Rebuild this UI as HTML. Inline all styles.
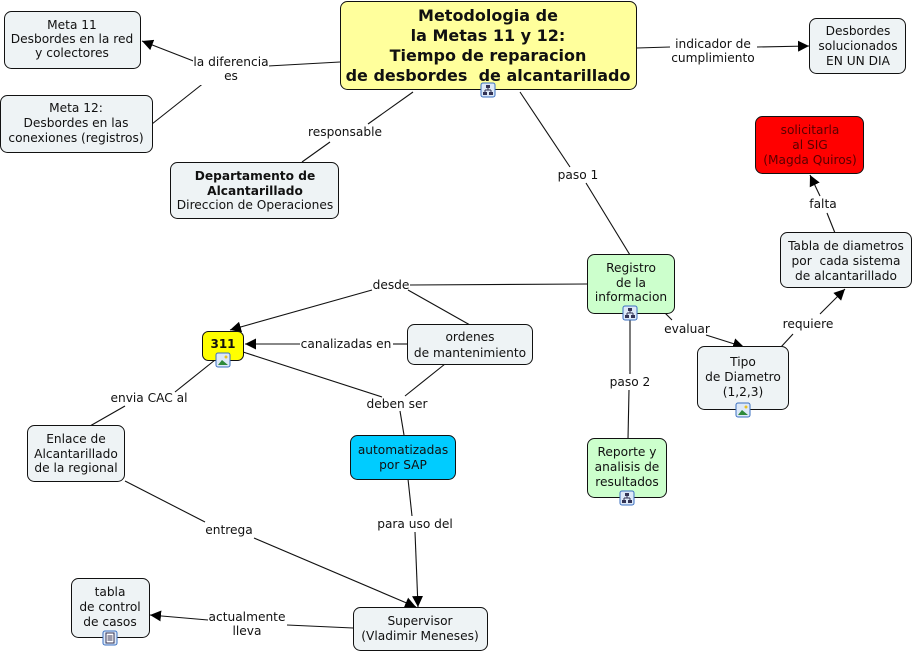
<!DOCTYPE html>
<html><head><meta charset="utf-8"><style>
html,body{margin:0;padding:0;background:#fff;}
svg{display:block;}
text{font-family:"DejaVu Sans","Liberation Sans",sans-serif;font-size:12.2px;fill:#111;}
.b{font-weight:bold;}
.n{fill:#eef3f5;stroke:#111;stroke-width:1;}
line,polyline{stroke:#111;stroke-width:1.1;fill:none;}
</style></head><body>
<svg width="914" height="652" viewBox="0 0 914 652">
<defs>
<marker id="a" viewBox="0 0 10 10" refX="10" refY="5" markerWidth="11" markerHeight="11" markerUnits="userSpaceOnUse" orient="auto"><path d="M0,0L10,5L0,10z" fill="#000"/></marker>
<g id="ci"><rect x="0" y="0" width="14" height="14" rx="2" fill="#dde9f8" stroke="#3a6fc0"/><rect x="5" y="2" width="4" height="3" fill="#335"/><rect x="2" y="9" width="4" height="3" fill="#335"/><rect x="8" y="9" width="4" height="3" fill="#335"/><path d="M7 5V7M4 7H10M4 7V9M10 7V9" stroke="#335" fill="none"/></g>
<g id="ii"><rect x="0" y="0" width="14" height="14" rx="2" fill="#dde9f8" stroke="#3a6fc0"/><path d="M2 12L6 7L12 12z" fill="#2d8a3a"/><circle cx="10" cy="4" r="1.5" fill="#e8c020"/></g>
<g id="di"><rect x="0" y="0" width="14" height="14" rx="2" fill="#dde9f8" stroke="#3a6fc0"/><rect x="3" y="2" width="8" height="10" fill="#fff" stroke="#335"/><path d="M4.5 5H9.5M4.5 7H9.5M4.5 9H9.5" stroke="#335"/></g>
</defs>

<!-- connectors -->
<polyline points="340,62 268,66"/>
<line x1="196" y1="62" x2="142" y2="41" marker-end="url(#a)"/>
<line x1="205" y1="82" x2="152" y2="124"/>
<line x1="413" y1="92" x2="368" y2="124"/>
<line x1="330" y1="142" x2="302" y2="162"/>
<line x1="637" y1="48" x2="670" y2="47"/>
<line x1="757" y1="47" x2="809" y2="46" marker-end="url(#a)"/>
<line x1="520" y1="92" x2="570" y2="167"/>
<line x1="586" y1="183" x2="630" y2="255"/>
<line x1="587" y1="284" x2="410" y2="285"/>
<line x1="372" y1="290" x2="230" y2="330" marker-end="url(#a)"/>
<line x1="408" y1="290" x2="470" y2="325"/>
<line x1="407" y1="344" x2="393" y2="344"/>
<line x1="300" y1="344" x2="245" y2="344" marker-end="url(#a)"/>
<line x1="243" y1="352" x2="382" y2="397"/>
<line x1="445" y1="364" x2="405" y2="396"/>
<line x1="400" y1="411" x2="404" y2="435"/>
<line x1="215" y1="360" x2="175" y2="392"/>
<line x1="125" y1="406" x2="90" y2="426"/>
<line x1="125" y1="481" x2="205" y2="522"/>
<line x1="254" y1="538" x2="416" y2="607" marker-end="url(#a)"/>
<line x1="408" y1="479" x2="412" y2="516"/>
<line x1="415" y1="532" x2="418" y2="607" marker-end="url(#a)"/>
<line x1="353" y1="628" x2="287" y2="625"/>
<line x1="208" y1="620" x2="150" y2="615" marker-end="url(#a)"/>
<line x1="630" y1="320" x2="630" y2="374"/>
<line x1="629" y1="390" x2="628" y2="439"/>
<line x1="665" y1="313" x2="672" y2="320"/>
<line x1="706" y1="335" x2="744" y2="347" marker-end="url(#a)"/>
<line x1="781" y1="347" x2="793" y2="334"/>
<line x1="820" y1="314" x2="845" y2="289" marker-end="url(#a)"/>
<line x1="835" y1="233" x2="827" y2="213"/>
<line x1="820" y1="196" x2="810" y2="175" marker-end="url(#a)"/>

<!-- link labels -->
<g text-anchor="middle">
<rect x="193" y="55" width="76" height="30" fill="#fff"/>
<text x="231" y="66">la diferencia</text><text x="231" y="80">es</text>
<text x="345" y="136">responsable</text>
<text x="713" y="48">indicador de</text><text x="713" y="62">cumplimiento</text>
<text x="578" y="179">paso 1</text>
<text x="391" y="289">desde</text>
<text x="346" y="348">canalizadas en</text>
<text x="397" y="408">deben ser</text>
<text x="149" y="402">envia CAC al</text>
<text x="229" y="534">entrega</text>
<text x="415" y="528">para uso del</text>
<text x="247" y="621">actualmente</text><text x="247" y="635">lleva</text>
<text x="630" y="386">paso 2</text>
<text x="687" y="333">evaluar</text>
<text x="808" y="328">requiere</text>
<text x="823" y="208">falta</text>
</g>

<!-- nodes -->
<rect x="340.5" y="1.5" width="296" height="88" rx="7" fill="#ffff9c" stroke="#111"/>
<g text-anchor="middle" class="b">
<text class="b" x="488" y="21" style="font-size:16px">Metodologia de</text>
<text class="b" x="488" y="41" style="font-size:16px">la Metas 11 y 12:</text>
<text class="b" x="488" y="61" style="font-size:16px">Tiempo de reparacion</text>
<text class="b" x="488" y="81" style="font-size:16px" xml:space="preserve">de desbordes  de alcantarillado</text>
</g>
<use href="#ci" x="481" y="83"/>

<rect class="n" x="4.5" y="11.5" width="136" height="57" rx="7"/>
<g text-anchor="middle"><text x="72" y="29">Meta 11</text><text x="72" y="43">Desbordes en la red</text><text x="72" y="57">y colectores</text></g>

<rect class="n" x="0.5" y="95.5" width="152" height="57" rx="7"/>
<g text-anchor="middle"><text x="76" y="112">Meta 12:</text><text x="76" y="127">Desbordes en las</text><text x="76" y="142">conexiones (registros)</text></g>

<rect class="n" x="170.5" y="162.5" width="168" height="56" rx="7"/>
<g text-anchor="middle"><text class="b" x="255" y="180">Departamento de</text><text class="b" x="255" y="195">Alcantarillado</text><text x="255" y="209">Direccion de Operaciones</text></g>

<rect class="n" x="809.5" y="18.5" width="96" height="55" rx="7"/>
<g text-anchor="middle"><text x="858" y="35">Desbordes</text><text x="858" y="50">solucionados</text><text x="858" y="65">EN UN DIA</text></g>

<rect x="755.5" y="116.5" width="108" height="57" rx="7" fill="#ff0000" stroke="#111"/>
<g text-anchor="middle"><text x="810" y="134" style="fill:#5a0000">solicitarla</text><text x="810" y="149" style="fill:#5a0000">al SIG</text><text x="810" y="164" style="fill:#5a0000">(Magda Quiros)</text></g>

<rect class="n" x="780.5" y="232.5" width="131" height="55" rx="7"/>
<g text-anchor="middle"><text x="846" y="250">Tabla de diametros</text><text x="846" y="265" xml:space="preserve">por  cada sistema</text><text x="846" y="280">de alcantarillado</text></g>

<rect x="587.5" y="254.5" width="87" height="59" rx="7" fill="#ccffcc" stroke="#111"/>
<g text-anchor="middle"><text x="631" y="272">Registro</text><text x="631" y="287">de la</text><text x="631" y="301">informacion</text></g>
<use href="#ci" x="623" y="306"/>

<rect class="n" x="407.5" y="324.5" width="125" height="40" rx="7"/>
<g text-anchor="middle"><text x="470" y="341">ordenes</text><text x="470" y="357">de mantenimiento</text></g>

<rect x="202.5" y="331.5" width="41" height="29" rx="6" fill="#ffff00" stroke="#111"/>
<text class="b" x="223" y="348" text-anchor="middle" style="font-size:12px">311</text>
<use href="#ii" x="216" y="353"/>

<rect class="n" x="697.5" y="346.5" width="91" height="63" rx="7"/>
<g text-anchor="middle"><text x="743" y="366">Tipo</text><text x="743" y="381">de Diametro</text><text x="743" y="396">(1,2,3)</text></g>
<use href="#ii" x="736" y="403"/>

<rect class="n" x="27.5" y="425.5" width="97" height="56" rx="7"/>
<g text-anchor="middle"><text x="76" y="443">Enlace de</text><text x="76" y="458">Alcantarillado</text><text x="76" y="472">de la regional</text></g>

<rect x="350.5" y="435.5" width="105" height="44" rx="7" fill="#00ccff" stroke="#111"/>
<g text-anchor="middle"><text x="403" y="454">automatizadas</text><text x="403" y="469">por SAP</text></g>

<rect x="587.5" y="438.5" width="79" height="59" rx="7" fill="#ccffcc" stroke="#111"/>
<g text-anchor="middle"><text x="627" y="456">Reporte y</text><text x="627" y="471">analisis de</text><text x="627" y="486">resultados</text></g>
<use href="#ci" x="620" y="491"/>

<rect class="n" x="71.5" y="578.5" width="78" height="59" rx="7"/>
<g text-anchor="middle"><text x="110" y="596">tabla</text><text x="110" y="611">de control</text><text x="110" y="626">de casos</text></g>
<use href="#di" x="103" y="631"/>

<rect class="n" x="353.5" y="607.5" width="134" height="43" rx="7"/>
<g text-anchor="middle"><text x="420" y="625">Supervisor</text><text x="420" y="640">(Vladimir Meneses)</text></g>
</svg>
</body></html>
